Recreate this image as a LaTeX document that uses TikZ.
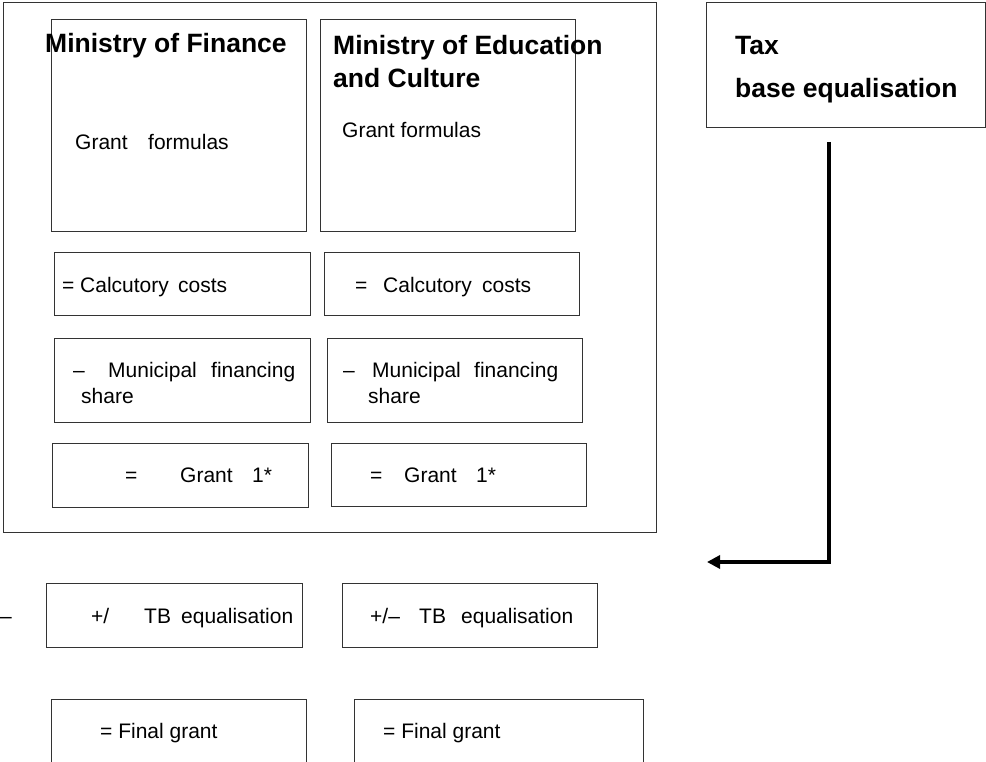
\documentclass[tikz,border=0pt]{standalone}
\usepackage{fontspec}
\setmainfont{Liberation Sans}
\usetikzlibrary{arrows.meta}
\tikzset{
  bx/.style={draw=black!80, line width=1pt, inner sep=0pt, outer sep=0pt, fill=none},
  tx/.style={anchor=base west, inner sep=0pt, font=\fontsize{21}{25}\selectfont},
  hd/.style={anchor=base west, inner sep=0pt, font=\fontsize{26.5}{32}\selectfont\bfseries},
  conn/.style={line width=4pt, -{Triangle[length=13pt,width=13pt]}}
}
\begin{document}
\begin{tikzpicture}[x=1pt,y=-1pt]
\path[use as bounding box] (0,0) rectangle (986,762);
\clip (0,0) rectangle (986,762);
% boxes
\node[bx, minimum width=653pt, minimum height=529pt] (outer) at (329.5,267.5) {};
\node[bx, minimum width=255pt, minimum height=212pt] (mof) at (178.5,126) {};
\node[bx, minimum width=255pt, minimum height=212pt] (moec) at (447.5,126) {};
\node[bx, minimum width=279pt, minimum height=125pt] (tax) at (845.5,65.5) {};
\node[bx, minimum width=256pt, minimum height=63pt] (calcL) at (182,284.5) {};
\node[bx, minimum width=255pt, minimum height=63pt] (calcR) at (451.5,284.5) {};
\node[bx, minimum width=256pt, minimum height=84pt] (muniL) at (182,380) {};
\node[bx, minimum width=255pt, minimum height=84pt] (muniR) at (454.5,380) {};
\node[bx, minimum width=256pt, minimum height=64pt] (grantL) at (180,475) {};
\node[bx, minimum width=255pt, minimum height=63pt] (grantR) at (458.5,474.5) {};
\node[bx, minimum width=256pt, minimum height=64pt] (tbL) at (174,615) {};
\node[bx, minimum width=255pt, minimum height=64pt] (tbR) at (469.5,615) {};
\node[bx, minimum width=255pt, minimum height=100pt] (finL) at (178.5,749) {};
\node[bx, minimum width=289pt, minimum height=100pt] (finR) at (498.5,749) {};
% headings
\node[hd] (hMoF) at (45,53) {Ministry of Finance};
\node[hd] (hMoE1) at (333,55) {Ministry of Education};
\node[hd] (hMoE2) at (333,88) {and Culture};
\node[hd] (hTax1) at (735,55) {Tax};
\node[hd] (hTax2) at (735,98) {base equalisation};
% texts
\node[tx] (gfL1) at (75,150) {Grant};
\node[tx] (gfL2) at (148,150) {formulas};
\node[tx] (gfR) at (342,138) {Grant formulas};
\node[tx] (ccL1) at (62,293) {=};
\node[tx] (ccL2) at (80,293) {Calcutory};
\node[tx] (ccL3) at (178,293) {costs};
\node[tx] (ccR1) at (355,293) {=};
\node[tx] (ccR2) at (383,293) {Calcutory};
\node[tx] (ccR3) at (482,293) {costs};
\node[tx] (mL1) at (73,377) {–};
\node[tx] (mL2) at (108,377) {Municipal};
\node[tx] (mL3) at (211,377) {financing};
\node[tx] (mL4) at (81,403) {share};
\node[tx] (mR1) at (343,377) {–};
\node[tx] (mR2) at (372,377) {Municipal};
\node[tx] (mR3) at (474,377) {financing};
\node[tx] (mR4) at (368,403) {share};
\node[tx] (gL1) at (125,482) {=};
\node[tx] (gL2) at (180,482) {Grant};
\node[tx] (gL3) at (252,482) {1*};
\node[tx] (gR1) at (370,482) {=};
\node[tx] (gR2) at (404,482) {Grant};
\node[tx] (gR3) at (476,482) {1*};
\node[tx] (dash) at (0,623) {–};
\node[tx] (tL1) at (91,623) {+/};
\node[tx] (tL2) at (144,623) {TB};
\node[tx] (tL3) at (181,623) {equalisation};
\node[tx] (tR1) at (370,623) {+/–};
\node[tx] (tR2) at (419,623) {TB};
\node[tx] (tR3) at (461,623) {equalisation};
\node[tx] (fL) at (100,738) {= Final grant};
\node[tx] (fR) at (383,738) {= Final grant};
% connector
\coordinate (arrS) at (829,142);
\coordinate (arrE) at (707,562);
\draw[conn] (arrS) |- (arrE);
\end{tikzpicture}
\end{document}
